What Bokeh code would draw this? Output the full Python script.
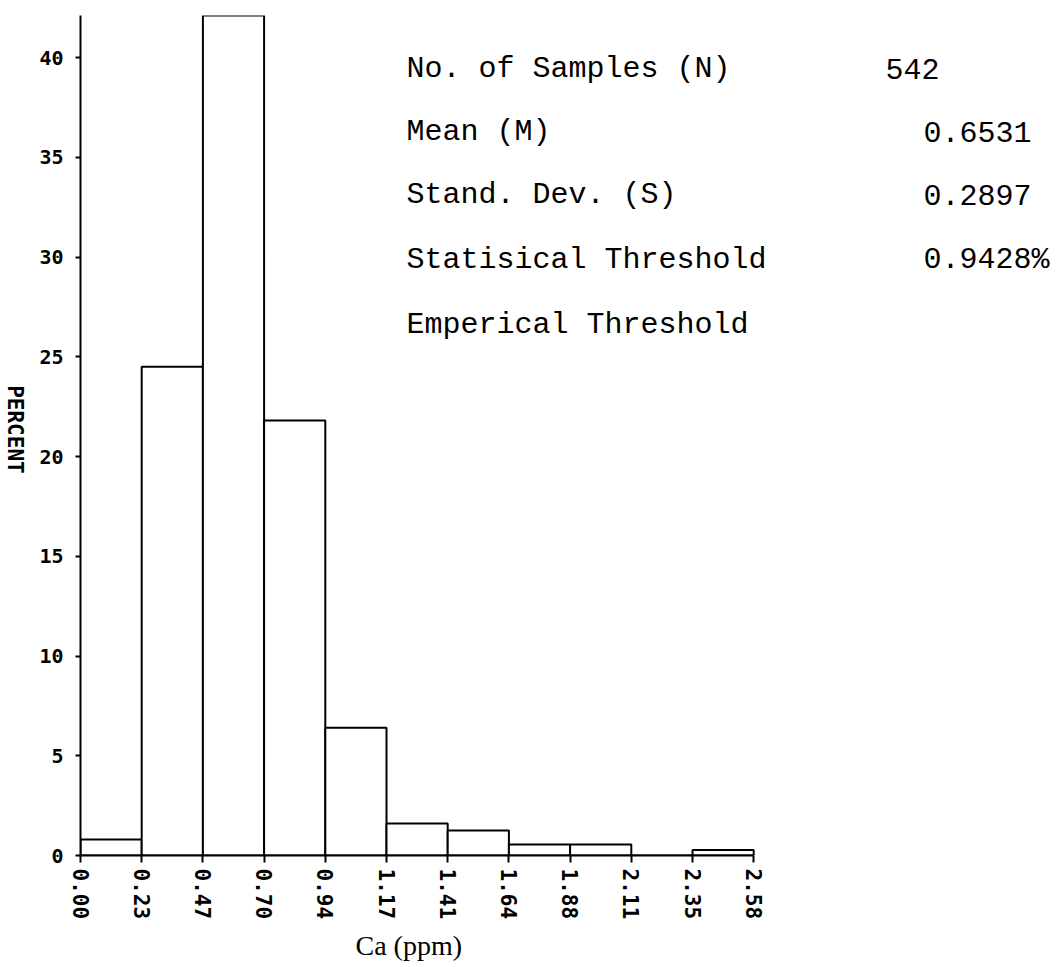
import math
from bokeh.plotting import figure
from bokeh.layouts import row
from bokeh.models import Range1d, FixedTicker, Label, Title
from bokeh.embed import file_html
from bokeh.resources import INLINE

# ---- data ----
bin_edge_labels = ["0.00", "0.23", "0.47", "0.70", "0.94", "1.17",
                   "1.41", "1.64", "1.88", "2.11", "2.35", "2.58"]
percent = [0.8, 24.5, 42.1, 21.8, 6.4, 1.6, 1.25, 0.55, 0.55, 0.0, 0.28]
y_ticks = [0, 5, 10, 15, 20, 25, 30, 35, 40]
stat_names = ["No. of Samples (N)", "Mean (M)", "Stand. Dev. (S)",
              "Statisical Threshold", "Emperical Threshold"]
stat_values = ["542", "0.6531", "0.2897", "0.9428%", ""]

# ---- layout constants (pixels of the reference) ----
STRIP = 26                       # narrow strip holding the y title
W, H = 1050 - STRIP, 966
FRAME_L, FRAME_T, FRAME_B = 80, 15, 855
PX_BIN = 61.2
PX_PCT = 19.95
frame_w = 1050 - FRAME_L
frame_h = FRAME_B - FRAME_T
TEXT_SHIFT = 9                   # baseline correction for Label text


def dx(px):
    return (px - FRAME_L) / PX_BIN


def dy(py):
    return (FRAME_B - py) / PX_PCT


# ---- y title strip (text reads top-to-bottom) ----
strip = figure(width=STRIP, height=H, output_backend="svg",
               toolbar_location=None, x_range=Range1d(0, STRIP),
               y_range=Range1d(H, 0), x_axis_location=None,
               y_axis_location=None, min_border=0)
strip.outline_line_color = None
strip.grid.visible = False
strip.add_layout(Label(x=14, y=476, text="PERCENT", angle=-math.pi / 2,
                       text_align="center", text_baseline="middle",
                       text_font="DejaVu Sans Mono", text_font_style="bold",
                       text_font_size="21px", text_color="black"))

# ---- main histogram ----
p = figure(width=W, height=H, output_backend="svg", toolbar_location=None,
           x_range=Range1d(0, frame_w / PX_BIN),
           y_range=Range1d(0, frame_h / PX_PCT),
           min_border_left=FRAME_L - STRIP, min_border_right=0,
           min_border_top=FRAME_T, min_border_bottom=H - FRAME_B)
p.outline_line_color = None
p.grid.visible = False
p.background_fill_color = "white"
p.border_fill_color = "white"

lefts = list(range(len(percent)))
rights = [i + 1 for i in lefts]
p.quad(left=lefts, right=rights, bottom=0, top=percent,
       fill_color="white", line_color="black", line_width=2)

# x axis
xa = p.xaxis[0]
xa.ticker = FixedTicker(ticks=list(range(len(bin_edge_labels))))
xa.major_label_overrides = {i: s for i, s in enumerate(bin_edge_labels)}
xa.major_label_orientation = -math.pi / 2
xa.bounds = (0, len(percent))
xa.minor_tick_line_color = None
xa.major_tick_in = 0
xa.major_tick_out = 7
xa.major_tick_line_width = 2
xa.axis_line_width = 2
xa.major_label_standoff = 6
xa.major_label_text_font = "DejaVu Sans Mono"
xa.major_label_text_font_style = "bold"
xa.major_label_text_font_size = "21px"
xa.major_label_text_color = "black"

# x axis title, centred under the histogram bins
p.add_layout(Title(text="Ca (ppm)", align="left", offset=275, standoff=11,
                   text_font="Liberation Serif", text_font_style="normal",
                   text_font_size="28px", text_color="black"), "below")

# y axis
ya = p.yaxis[0]
ya.ticker = FixedTicker(ticks=y_ticks)
ya.bounds = (0, frame_h / PX_PCT)
ya.minor_tick_line_color = None
ya.major_tick_in = 0
ya.major_tick_out = 5
ya.major_tick_line_width = 2
ya.axis_line_width = 2
ya.major_label_standoff = 12
ya.major_label_text_font = "DejaVu Sans Mono"
ya.major_label_text_font_style = "bold"
ya.major_label_text_font_size = "20px"
ya.major_label_text_color = "black"

# statistics block
baselines = [77, 140, 203, 268, 333]
value_x = [885, 923, 923, 923, 923]
for name, val, by, vx in zip(stat_names, stat_values, baselines, value_x):
    p.add_layout(Label(x=dx(406), y=dy(by - TEXT_SHIFT), text=name,
                       text_align="left", text_baseline="alphabetic",
                       text_font="Liberation Mono", text_font_size="30px",
                       text_color="black"))
    if val:
        p.add_layout(Label(x=dx(vx), y=dy(by - TEXT_SHIFT), text=val,
                           text_align="left", text_baseline="alphabetic",
                           text_font="Liberation Mono", text_font_size="30px",
                           text_color="black"))

layout = row(strip, p, spacing=0)
open("out.html", "w").write(file_html(layout, INLINE))
